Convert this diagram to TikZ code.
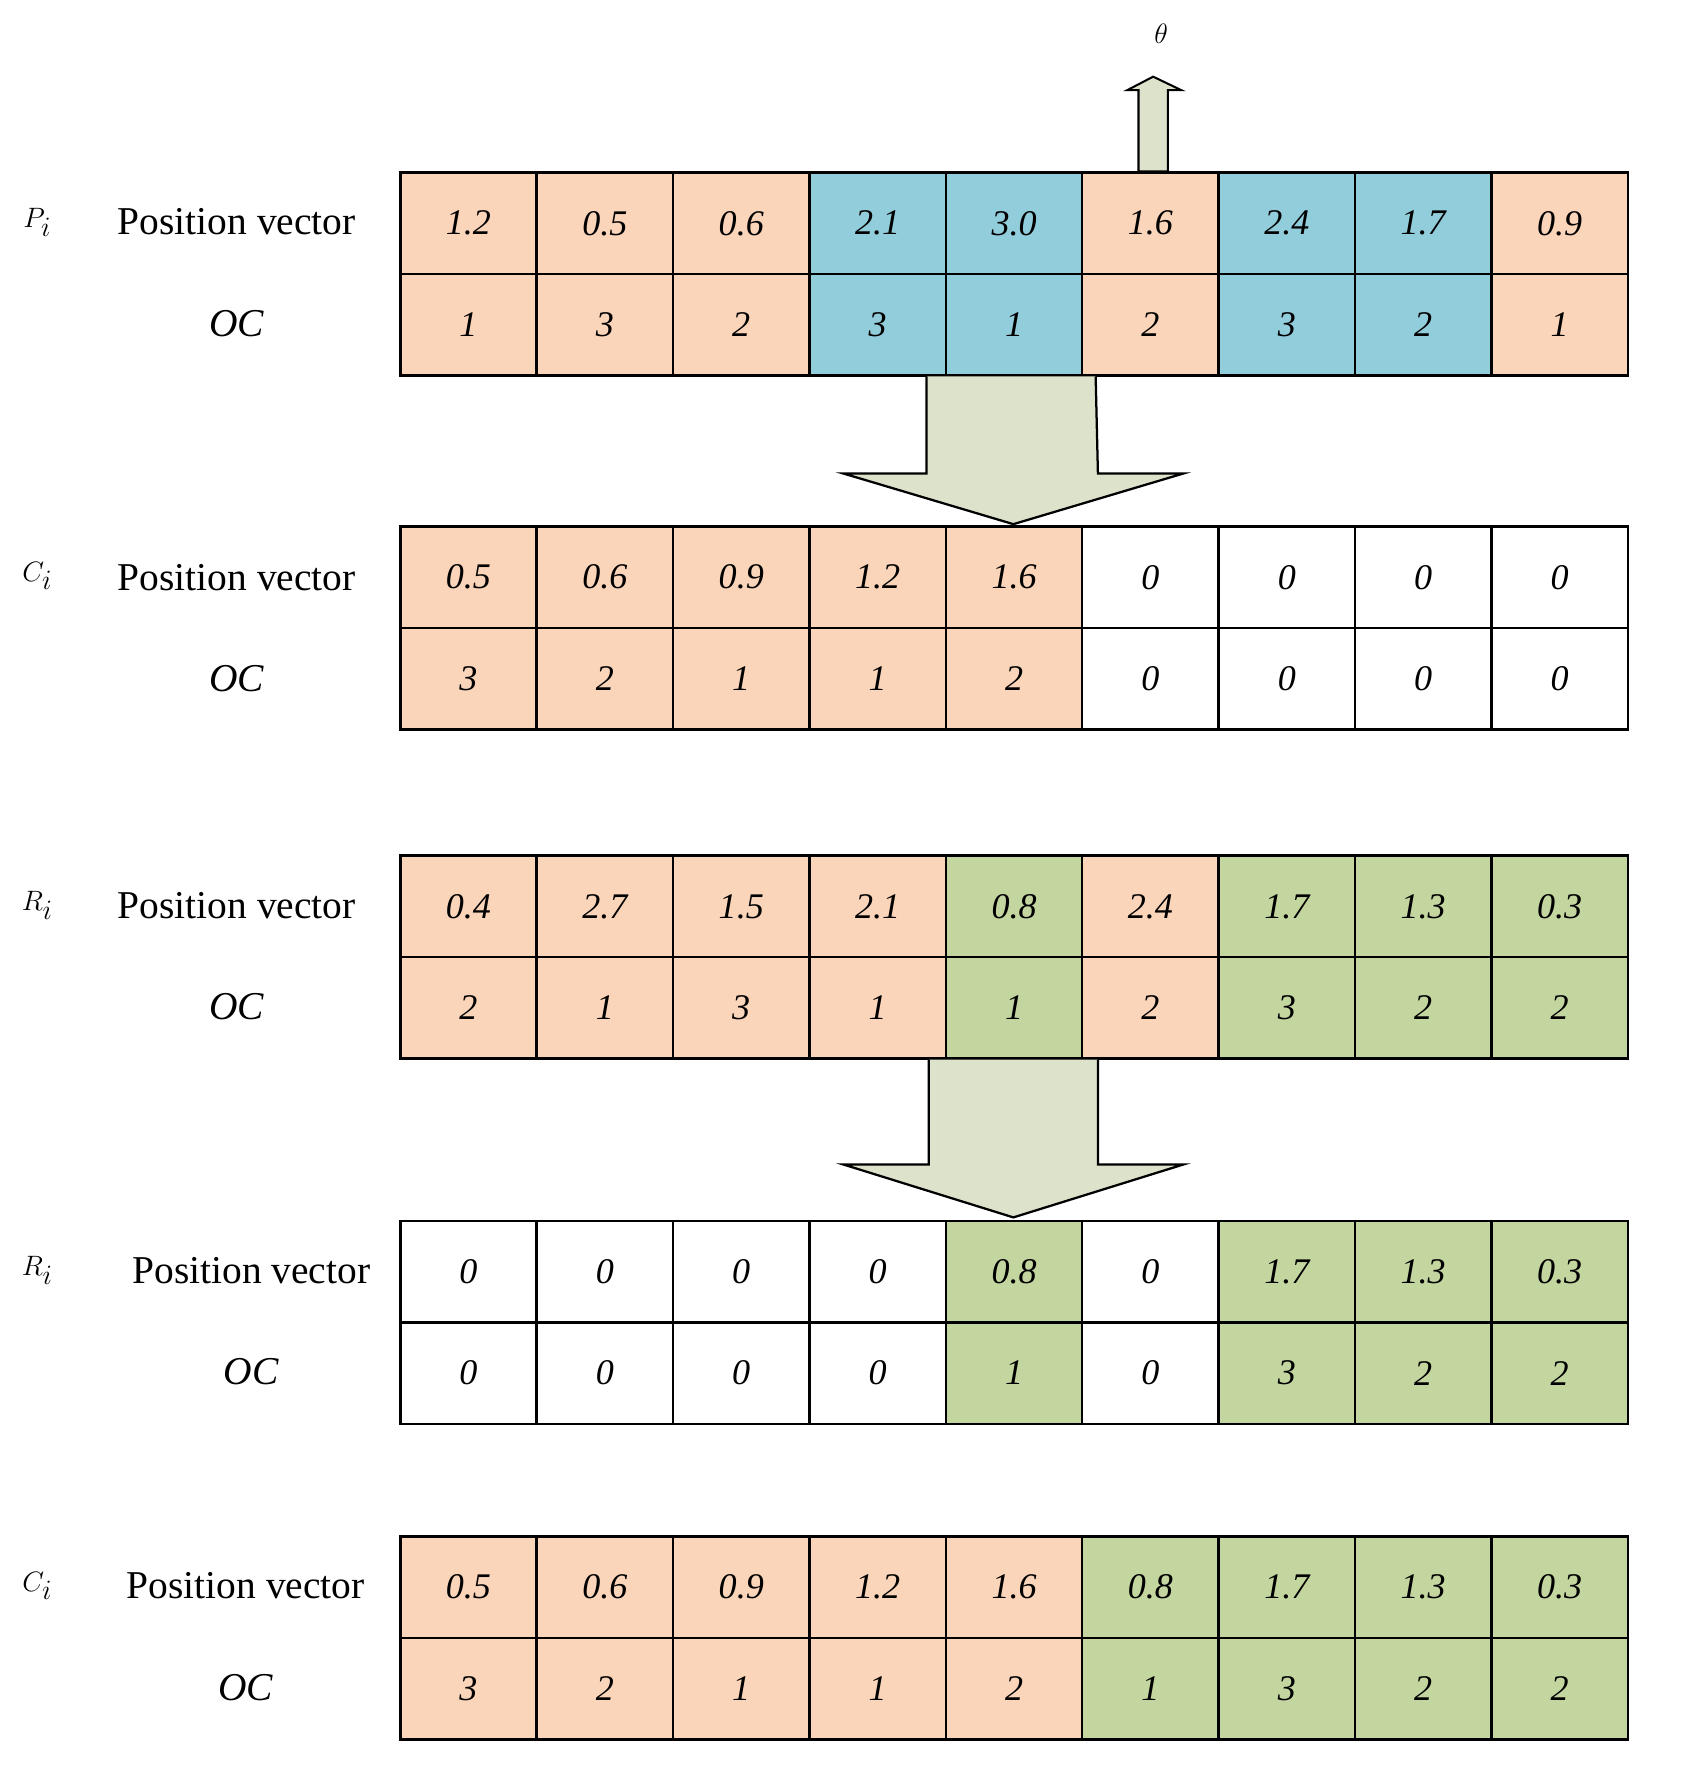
\documentclass[tikz,border=0pt]{standalone}
\usepackage{fontspec}
\setmainfont{Liberation Serif}
\begin{document}
\definecolor{pe}{HTML}{FBD5BA}
\definecolor{bl}{HTML}{92CDDC}
\definecolor{gr}{HTML}{C4D6A0}
\definecolor{ar}{HTML}{DDE3CB}
\begin{tikzpicture}[x=1pt,y=-1pt,
 cell/.style={draw,line width=2.2pt,minimum width=121pt,minimum height=90pt,inner sep=0,anchor=north west,font=\fontsize{32}{36}\selectfont\itshape},
 lab/.style={font=\fontsize{35}{40}\selectfont},
 sym/.style={font=\fontsize{38}{42}\selectfont\itshape},
 bigar/.style={draw,line width=2pt,fill=ar}]
\useasboundingbox (0,0) rectangle (1500,1580);
\def\W{121}
% rows: y, list of value/color
\newcommand\myrow[3]{%
 \foreach \v/\c [count=\i from 0] in {#3} {
   \node[cell,fill=\c] (#1-\i) at (354+\i*\W,#2) {\v};
 }}
\myrow{pa}{152}{1.2/pe,0.5/pe,0.6/pe,2.1/bl,3.0/bl,1.6/pe,2.4/bl,1.7/bl,0.9/pe}
\myrow{pb}{242}{1/pe,3/pe,2/pe,3/bl,1/bl,2/pe,3/bl,2/bl,1/pe}
\myrow{ca}{466}{0.5/pe,0.6/pe,0.9/pe,1.2/pe,1.6/pe,0/white,0/white,0/white,0/white}
\myrow{cb}{556}{3/pe,2/pe,1/pe,1/pe,2/pe,0/white,0/white,0/white,0/white}
\myrow{ra}{758}{0.4/pe,2.7/pe,1.5/pe,2.1/pe,0.8/gr,2.4/pe,1.7/gr,1.3/gr,0.3/gr}
\myrow{rb}{848}{2/pe,1/pe,3/pe,1/pe,1/gr,2/pe,3/gr,2/gr,2/gr}
\myrow{sa}{1082}{0/white,0/white,0/white,0/white,0.8/gr,0/white,1.7/gr,1.3/gr,0.3/gr}
\myrow{sb}{1172}{0/white,0/white,0/white,0/white,1/gr,0/white,3/gr,2/gr,2/gr}
\myrow{da}{1362}{0.5/pe,0.6/pe,0.9/pe,1.2/pe,1.6/pe,0.8/gr,1.7/gr,1.3/gr,0.3/gr}
\myrow{db}{1452}{3/pe,2/pe,1/pe,1/pe,2/pe,1/gr,3/gr,2/gr,2/gr}
% labels
\node[sym] (lp) at (33,197) {$P_i$};
\node[lab] (lp1) at (210,197) {Position vector};
\node[lab,font=\fontsize{35}{40}\selectfont\itshape] (lp2) at (210,287) {OC};
\node[sym] (lc) at (33,511) {$C_i$};
\node[lab] (lc1) at (210,512) {Position vector};
\node[lab,font=\fontsize{35}{40}\selectfont\itshape] (lc2) at (210,602) {OC};
\node[sym] (lr) at (33,803) {$R_i$};
\node[lab] (lr1) at (210,803) {Position vector};
\node[lab,font=\fontsize{35}{40}\selectfont\itshape] (lr2) at (210,893) {OC};
\node[sym] (ls) at (33,1127) {$R_i$};
\node[lab] (ls1) at (223,1127) {Position vector};
\node[lab,font=\fontsize{35}{40}\selectfont\itshape] (ls2) at (223,1217) {OC};
\node[sym] (ld) at (33,1407) {$C_i$};
\node[lab] (ld1) at (218,1407) {Position vector};
\node[lab,font=\fontsize{35}{40}\selectfont\itshape] (ld2) at (218,1497) {OC};
% arrows
\node[font=\fontsize{32}{36}\selectfont] (th) at (1030,30) {$\theta$};
\draw[bigar,line width=1.8pt] (1010,152) -- (1010,80) -- (1000,80) -- (1023,68) -- (1048,80) -- (1036,80) -- (1036,152) -- cycle;
\draw[bigar] (822,334) -- (822,420) -- (748,420) -- (899,465) -- (1050,420) -- (974,420) -- (972,334);
\draw[bigar] (824,940) -- (824,1033) -- (748,1033) -- (899,1080) -- (1050,1033) -- (974,1033) -- (974,940);
\end{tikzpicture}
\end{document}
